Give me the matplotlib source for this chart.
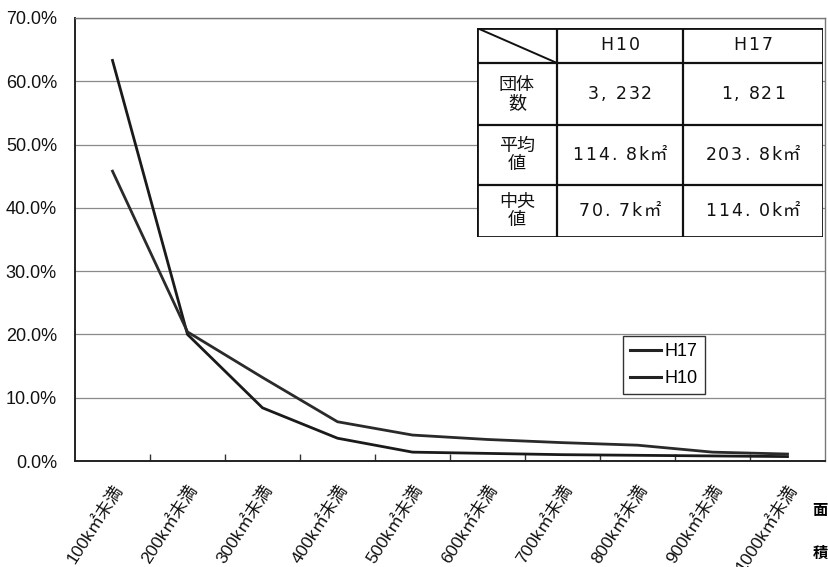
import matplotlib
matplotlib.use("Agg")
import matplotlib.pyplot as plt
from matplotlib.lines import Line2D
from matplotlib.patches import Rectangle

plt.rcParams['font.family'] = ['Liberation Sans', 'Noto Sans CJK JP', 'DejaVu Sans']

categories = ["100k㎡未満", "200k㎡未満", "300k㎡未満", "400k㎡未満", "500k㎡未満",
              "600k㎡未満", "700k㎡未満", "800k㎡未満", "900k㎡未満", "1000k㎡未満"]
h10 = [63.3, 20.0, 8.4, 3.6, 1.4, 1.2, 1.0, 0.9, 0.8, 0.7]
h17 = [45.8, 20.4, 13.2, 6.2, 4.1, 3.4, 2.9, 2.5, 1.4, 1.1]
yticks = [0, 10, 20, 30, 40, 50, 60, 70]

tbl_cols = ["H10", "H17"]
tbl_rows = ["団体\n数", "平均\n値", "中央\n値"]
tbl_vals = [["3, 232", "1, 821"],
            ["114. 8k㎡", "203. 8k㎡"],
            ["70. 7k㎡", "114. 0k㎡"]]

W, H = 829, 567
fig = plt.figure(figsize=(W / 100, H / 100), dpi=100)
L, R, T, B = 75, 825, 18, 461
ax = fig.add_axes([L / W, 1 - B / H, (R - L) / W, (B - T) / H])

x = list(range(len(categories)))
ax.plot(x, h10, color='#1a1a1a', lw=2.0, label='H10', solid_joinstyle='round')
ax.plot(x, h17, color='#2a2a2a', lw=2.0, label='H17', solid_joinstyle='round')

ax.set_xlim(-0.5, len(categories) - 0.5)
ax.set_ylim(0, 70)
ax.set_yticks(yticks)
ax.set_yticklabels([f"{v:.1f}%" for v in yticks], fontsize=13, color='#111')
ax.tick_params(axis='y', length=0, pad=13)
ax.grid(axis='y', color='#8a8a8a', lw=0.9)
ax.set_axisbelow(True)

ax.set_xticks(x)
ax.set_xticklabels(categories, rotation=57, ha='right', va='top',
                   rotation_mode='anchor', fontsize=12.5, color='#111')
ax.tick_params(axis='x', length=0, pad=15)
ax.set_xticks([i + 0.5 for i in x[:-1]], minor=True)
ax.tick_params(axis='x', which='minor', direction='in', length=5, width=1, color='#333')

for s in ['left', 'bottom']:
    ax.spines[s].set_color('#222')
    ax.spines[s].set_linewidth(1.4)
for s in ['top', 'right']:
    ax.spines[s].set_color('#777')
    ax.spines[s].set_linewidth(1.0)

handles = [Line2D([], [], color='#222', lw=2.2), Line2D([], [], color='#222', lw=2.2)]
leg = ax.legend(handles, ['H17', 'H10'], loc='upper left',
                bbox_to_anchor=(623 / W, 1 - 336 / H), bbox_transform=fig.transFigure,
                borderaxespad=0, fancybox=False, fontsize=13, handlelength=1.7,
                handletextpad=0.2, borderpad=0.4, labelspacing=0.55, framealpha=1)
leg.get_frame().set_edgecolor('#333')
leg.get_frame().set_linewidth(1.0)

# table
tx0, tx1, ty0, ty1 = 477, 823, 28, 237
colx = [0, 80, 206, 346]
rowy = [0, 35, 97, 157, 209]
tax = fig.add_axes([tx0 / W, 1 - ty1 / H, (tx1 - tx0) / W, (ty1 - ty0) / H])
tax.set_xlim(0, 346)
tax.set_ylim(209, 0)
tax.axis('off')
tax.add_patch(Rectangle((0, 0), 346, 209, facecolor='white', edgecolor='#111', lw=2.0))
for cx in colx[1:-1]:
    tax.plot([cx, cx], [0, 209], color='#111', lw=1.6)
for ry in rowy[1:-1]:
    tax.plot([0, 346], [ry, ry], color='#111', lw=1.6)
tax.plot([0, colx[1]], [0, rowy[1]], color='#111', lw=1.4)

renderer = fig.canvas.get_renderer()
FAM = ['DejaVu Sans', 'Noto Sans CJK JP']


def spaced_text(cx, cy, s, size, spacing):
    arts, widths = [], []
    for ch in s:
        t = tax.text(0, cy, ch, ha='left', va='center', fontsize=size, family=FAM,
                     color='#111')
        if ch == ' ':
            w = 0.318 * size * 100 / 72
        else:
            w = t.get_window_extent(renderer).width
        arts.append(t)
        widths.append(w)
    total = sum(widths) + spacing * (len(s) - 1)
    xp = cx - total / 2
    for t, w in zip(arts, widths):
        t.set_x(xp)
        xp += w + spacing


for j, c in enumerate(tbl_cols):
    spaced_text((colx[j + 1] + colx[j + 2]) / 2, (rowy[0] + rowy[1]) / 2, c, 12.5, 2.0)
for i, r in enumerate(tbl_rows):
    cy = (rowy[i + 1] + rowy[i + 2]) / 2
    tax.text((colx[0] + colx[1]) / 2, cy, r, ha='center', va='center', fontsize=13,
             linespacing=1.05, family=['Noto Sans CJK JP', 'DejaVu Sans'], color='#111')
    for j in range(2):
        spaced_text((colx[j + 1] + colx[j + 2]) / 2, cy, tbl_vals[i][j], 12.5, 1.8)

fig.text(820 / W, 1 - 510 / H, "面", ha='center', va='center', fontsize=11,
         family=['Noto Sans CJK JP'], weight='bold')
fig.text(820 / W, 1 - 553 / H, "積", ha='center', va='center', fontsize=11,
         family=['Noto Sans CJK JP'], weight='bold')

fig.savefig("out.png", dpi=100)
